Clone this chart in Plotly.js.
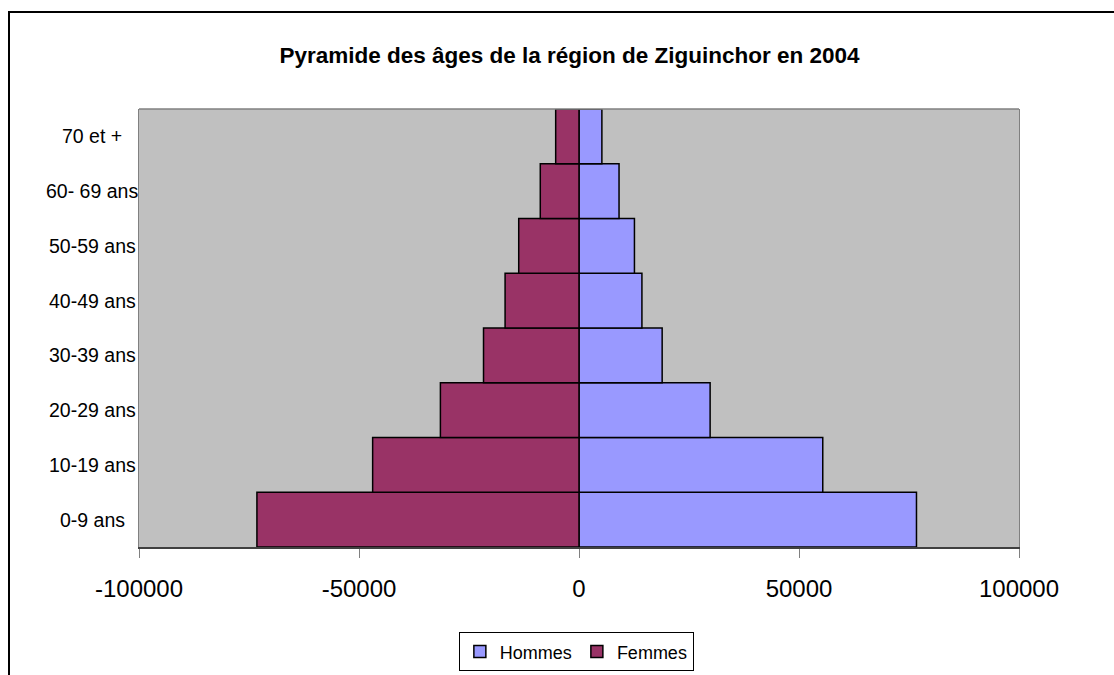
<!DOCTYPE html>
<html>
<head>
<meta charset="utf-8">
<script src="https://cdn.plot.ly/plotly-3.0.1.min.js"></script>
<style>
  html, body { margin: 0; padding: 0; background: #ffffff; }
  #wrap { position: relative; width: 1114px; height: 675px; overflow: hidden; }
  #chart { width: 1114px; height: 675px; }
  #frame { position: absolute; left: 8px; top: 11px; width: 1200px; height: 800px;
           border-top: 2px solid #000; border-left: 2px solid #000; pointer-events: none; }
</style>
</head>
<body>
<div id="wrap">
  <div id="chart"></div>
  <div id="frame"></div>
</div>
<script>
const categories = ["0-9 ans", "10-19 ans", "20-29 ans", "30-39 ans", "40-49 ans", "50-59 ans", "60- 69 ans", "70 et +"];
const hommes = [76700, 55400, 29800, 18900, 14300, 12600, 9100, 5200];
const femmes = [-73200, -46900, -31500, -21700, -16800, -13700, -8800, -5300];
const xTickVals = [-100000, -50000, 0, 50000, 100000];
const xTickText = xTickVals.map(v => String(v));
const titleText = "Pyramide des âges de la région de Ziguinchor en 2004";

const FONT = "Liberation Sans, Arial, sans-serif";

const traces = [
  {
    type: "bar", orientation: "h", name: "Hommes",
    x: hommes, y: categories,
    marker: { color: "#9999FF", line: { color: "#000000", width: 1.5 } },
    hoverinfo: "x+y+name"
  },
  {
    type: "bar", orientation: "h", name: "Femmes",
    x: femmes, y: categories,
    marker: { color: "#993366", line: { color: "#000000", width: 1.5 } },
    hoverinfo: "x+y+name"
  }
];

const labelAnnotations = categories.map(c => ({
  xref: "paper", yref: "y", x: -0.0534, y: c,
  text: c, showarrow: false, xanchor: "center", yanchor: "middle",
  font: { family: FONT, size: 19.5, color: "#000000" }
}));

const layout = {
  width: 1114, height: 675,
  margin: { l: 139, r: 95, t: 109, b: 128, pad: 0, autoexpand: false },
  paper_bgcolor: "#ffffff",
  plot_bgcolor: "#C0C0C0",
  barmode: "relative",
  bargap: 0,
  showlegend: true,
  font: { family: FONT, color: "#000000" },
  title: {
    text: titleText,
    font: { family: FONT, size: 22.5, color: "#000000", weight: "bold" },
    xref: "container", yref: "container",
    x: 0.5112, y: 0.9185, xanchor: "center", yanchor: "middle"
  },
  xaxis: {
    range: [-100000, 100000],
    tickmode: "array", tickvals: xTickVals, ticktext: xTickText,
    ticks: "outside", ticklen: 9, tickwidth: 1, tickcolor: "#808080",
    ticklabelstandoff: 10,
    tickfont: { family: FONT, size: 24, color: "#000000" },
    showline: true, linecolor: "#404040", linewidth: 2,
    showgrid: false, zeroline: false, fixedrange: true
  },
  yaxis: {
    type: "category",
    showticklabels: false, ticks: "",
    showline: true, linecolor: "#808080", linewidth: 1, mirror: true,
    showgrid: false, zeroline: false, fixedrange: true
  },
  shapes: [
    { type: "line", xref: "paper", yref: "paper", x0: 0, x1: 1, y0: 1, y1: 1,
      line: { color: "#808080", width: 1.5 }, layer: "above" }
  ],
  legend: {
    orientation: "h",
    x: 0.497, xanchor: "center",
    y: -0.195, yanchor: "top",
    bgcolor: "#ffffff", bordercolor: "#000000", borderwidth: 1,
    font: { family: FONT, size: 18, color: "#000000" },
    itemwidth: 30, traceorder: "normal"
  },
  annotations: labelAnnotations
};

Plotly.newPlot("chart", traces, layout, { displayModeBar: false, staticPlot: true });
</script>
</body>
</html>
